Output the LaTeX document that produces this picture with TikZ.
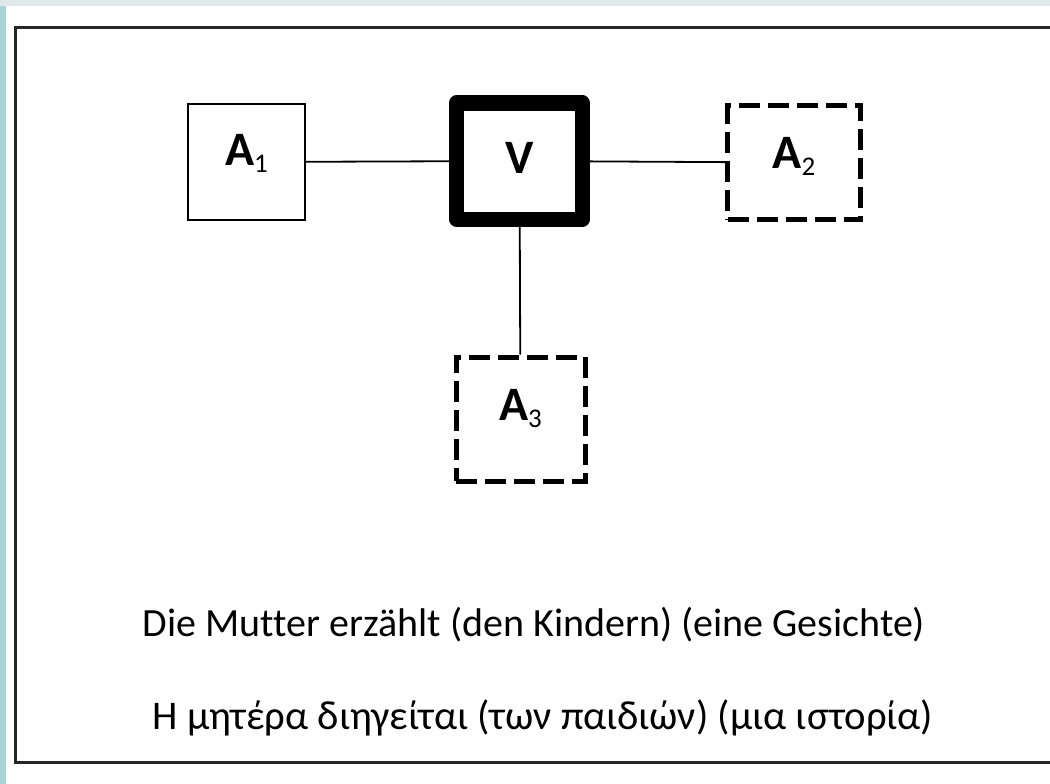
\documentclass[tikz,border=0pt]{standalone}
\usepackage{fontspec}
\setmainfont{Carlito}[Ligatures=NoCommon]
\usepackage{tikz}
\usetikzlibrary{positioning}

\definecolor{pagegrey}{HTML}{DFE9E9}
\definecolor{sidebar}{HTML}{A9D5D9}
\definecolor{framegrey}{HTML}{262626}

\newcommand{\argname}[1]{A\raisebox{-7pt}{\fontsize{27}{27}\selectfont\mdseries #1}}

\begin{document}
\begin{tikzpicture}[x=1pt,y=-1pt]
			\useasboundingbox (0,0) rectangle (1050,784);
			\fill[pagegrey] (0,0) rectangle (1050,784);
			\fill[sidebar] (0,6) rectangle (6,784);
			\fill[white] (6,6) rectangle (1050,784);
			\draw[framegrey, line width=3pt] (1050,28) -- (15,28) -- (15,762) -- (1050,762);

			\begin{scope}[every node/.style={rectangle,draw,inner sep=0pt,text depth=0pt,
				font=\fontsize{48}{48}\selectfont\bfseries}]
				\node[line width=2pt, minimum width=117pt, minimum height=116pt, text height=6pt] (A1) at (246.5,162) {\argname{1}};
				\node[line width=15pt, line join=round, minimum width=126pt, minimum height=116pt, text height=24pt] (V) at (519.5,161) {V};
				\node[line width=5pt, dash pattern=on 21pt off 8pt, minimum width=133pt, minimum height=114pt, text height=11pt] (A2) at (794,162.5) {\argname{2}};
				\node[line width=5pt, dash pattern=on 21pt off 8pt, minimum width=129pt, minimum height=124pt, text height=2pt] (A3) at (520.5,419) {\argname{3}};
			\end{scope}

			\begin{scope}[every edge/.style={draw, line width=1.8pt}]
				\path (A1) edge (V);
				\path (V) edge (A2);
				\path (V) edge (A3);
			\end{scope}

			\begin{scope}[every node/.style={anchor=base}]
				\node[font=\fontsize{40}{40}\selectfont] (de) at (534,636) {Die Mutter erzählt (den Kindern) (eine Gesichte)};
				\node[font=\fontsize{40.7}{40.7}\selectfont] (el) at (543,729) {Η μητέρα διηγείται (των παιδιών) (μια ιστορία)};
			\end{scope}
		\end{tikzpicture}
\end{document}
